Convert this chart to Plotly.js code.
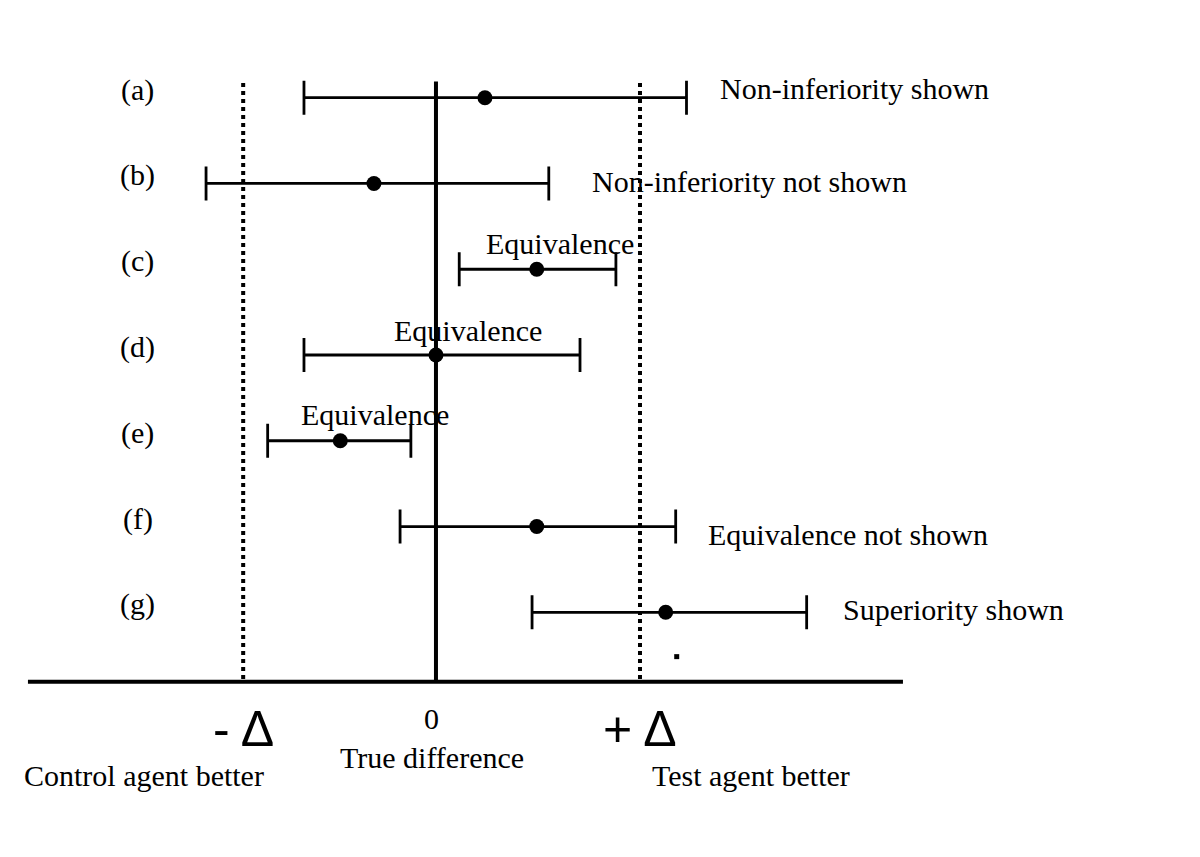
<!DOCTYPE html>
<html>
<head>
<meta charset="utf-8">
<script src="https://cdn.plot.ly/plotly-3.0.1.min.js"></script>
<style>html,body{margin:0;padding:0;background:#fff;}#chart{width:1200px;height:857px;}</style>
</head>
<body>
<div id="chart"></div>
<script>
// Data (x in units of +Δ; 0 = no true difference)
const rowLabels = ['(a)', '(b)', '(c)', '(d)', '(e)', '(f)', '(g)'];
const estimate = [0.240, -0.304, 0.494, 0.000, -0.469, 0.494, 1.126];
const lowerCI  = [-0.647, -1.127, 0.114, -0.647, -0.825, -0.176, 0.471];
const upperCI  = [1.228, 0.553, 0.882, 0.706, -0.123, 1.175, 1.817];
const outcome  = ['Non-inferiority shown', 'Non-inferiority not shown', 'Equivalence',
                  'Equivalence', 'Equivalence', 'Equivalence not shown', 'Superiority shown'];
const marginNeg = -0.945;   // -Δ
const marginPos = 1.0;      // +Δ
const strayDotX = [1.180];
const strayDotY = [6.517];

const rows = rowLabels.map((_, i) => i);
const serif = 'Liberation Serif, Times New Roman, serif';
const FS = 30;

const traces = [
  {
    type: 'scatter', mode: 'markers',
    x: estimate, y: rows,
    marker: {color: '#000', size: 15, symbol: 'circle'},
    error_x: {
      type: 'data', symmetric: false,
      array: upperCI.map((u, i) => u - estimate[i]),
      arrayminus: lowerCI.map((l, i) => estimate[i] - l),
      color: '#000', thickness: 2.8, width: 17
    },
    hoverinfo: 'skip', showlegend: false
  },
  {
    type: 'scatter', mode: 'markers',
    x: strayDotX, y: strayDotY,
    marker: {color: '#000', size: 5, symbol: 'square'},
    hoverinfo: 'skip', showlegend: false
  }
];

const axisY = 6.809;
const shapes = [
  {type: 'line', xref: 'x', yref: 'y', x0: 0, x1: 0, y0: -0.19, y1: axisY, line: {color: '#000', width: 4}},
  {type: 'line', xref: 'x', yref: 'y', x0: marginNeg, x1: marginNeg, y0: -0.17, y1: axisY, line: {color: '#000', width: 4, dash: '4px,4px'}},
  {type: 'line', xref: 'x', yref: 'y', x0: marginPos, x1: marginPos, y0: -0.17, y1: axisY, line: {color: '#000', width: 4, dash: '4px,4px'}},
  {type: 'line', xref: 'x', yref: 'y', x0: -2.0, x1: 2.289, y0: axisY, y1: axisY, line: {color: '#000', width: 4}}
];

const annotations = [];
rowLabels.forEach((lab, i) => {
  annotations.push({xref: 'x', yref: 'y', x: -1.461, y: i, yshift: 8, text: lab, showarrow: false,
    xanchor: 'center', yanchor: 'middle', font: {family: serif, size: FS, color: '#000'}});
});
// outcome label placements: [x, y-shift(px), anchor]
const outPos = [
  [1.382, 9, 'left'], [0.755, 2, 'left'], [0.606, 26, 'center'], [0.159, 25, 'center'],
  [-0.299, 26, 'center'], [1.325, -8, 'left'], [1.985, 3, 'left']
];
outcome.forEach((t, i) => {
  annotations.push({xref: 'x', yref: 'y', x: outPos[i][0], y: i, yshift: outPos[i][1], text: t,
    showarrow: false, xanchor: outPos[i][2], yanchor: 'middle',
    font: {family: serif, size: FS, color: '#000'}});
});
// bottom labels
const sans = 'Liberation Sans Narrow, Arial Narrow, Liberation Sans, sans-serif';
annotations.push({xref: 'x', yref: 'paper', x: marginNeg, y: 1 - 729 / 857, text: '- Δ', showarrow: false,
  xanchor: 'center', yanchor: 'middle', font: {family: sans, size: 50, color: '#000'}});
annotations.push({xref: 'x', yref: 'paper', x: marginPos, y: 1 - 729 / 857, text: '+ Δ', showarrow: false,
  xanchor: 'center', yanchor: 'middle', font: {family: sans, size: 50, color: '#000'}});
annotations.push({xref: 'x', yref: 'paper', x: -0.02, y: 1 - 718 / 857, text: '0', showarrow: false,
  xanchor: 'center', yanchor: 'middle', font: {family: serif, size: FS, color: '#000'}});
annotations.push({xref: 'x', yref: 'paper', x: -0.02, y: 1 - 757 / 857, text: 'True difference', showarrow: false,
  xanchor: 'center', yanchor: 'middle', font: {family: serif, size: FS, color: '#000'}});
annotations.push({xref: 'paper', yref: 'paper', x: 22 / 1200, y: 1 - 775 / 857, text: 'Control agent better', showarrow: false,
  xanchor: 'left', yanchor: 'middle', font: {family: serif, size: FS, color: '#000'}});
annotations.push({xref: 'paper', yref: 'paper', x: 650 / 1200, y: 1 - 775 / 857, text: 'Test agent better', showarrow: false,
  xanchor: 'left', yanchor: 'middle', font: {family: serif, size: FS, color: '#000'}});

const layout = {
  width: 1200, height: 857,
  margin: {l: 0, r: 0, t: 0, b: 0},
  paper_bgcolor: '#fff', plot_bgcolor: '#fff',
  xaxis: {range: [-2.137, 3.745], visible: false, fixedrange: true},
  yaxis: {range: [8.853, -1.139], visible: false, fixedrange: true},
  shapes: shapes,
  annotations: annotations,
  showlegend: false
};

Plotly.newPlot('chart', traces, layout, {staticPlot: true});
</script>
</body>
</html>
